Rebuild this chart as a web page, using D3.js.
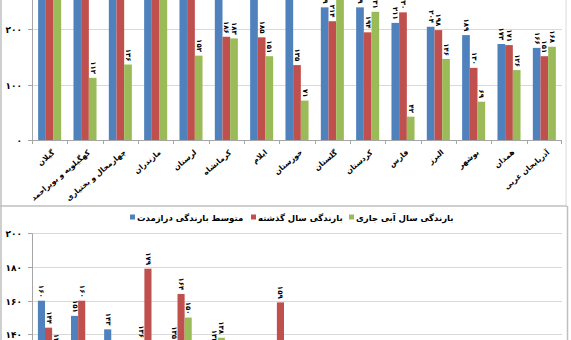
<!DOCTYPE html>
<html><head><meta charset="utf-8">
<script src="https://cdn.jsdelivr.net/npm/d3@7/dist/d3.min.js"></script>
<style>
html,body{margin:0;padding:0;background:#fff;}
svg{display:block;font-family:"DejaVu Sans",sans-serif;font-weight:bold;}
</style></head>
<body><svg id="c" width="571" height="340"></svg>
<script>
// ---- data: upper chart ----
const categoriesTop = ["گیلان","کهگیلویه و بویراحمد","چهارمحال و بختیاری","مازندران","لرستان","کرمانشاه","ایلام","خوزستان","گلستان","کردستان","فارس","البرز","بوشهر","همدان","آذربایجان غربی"];
const longTermTop = [780, 520, 390, 470, 330, 300, 320, 260, 239, 239, 211, 204, 189, 173, 166];
const lastYearTop = [760, 480, 360, 450, 300, 186, 185, 135, 214, 194, 230, 198, 130, 171, 151];
const currentTop  = [700, 112, 136, 420, 152, 183, 151, 71, 290, 231, 42, 146, 69, 126, 168];
const yTicksTop = [0, 100, 200, 300, 400, 500, 600, 700, 800];

// ---- data: lower chart ----
const categoriesBottom = ["اردبیل","زنجان","قزوین","تهران","آذربایجان شرقی","مرکزی","خراسان شمالی","هرمزگان","خراسان رضوی","قم","اصفهان","کرمان","سمنان","خراسان جنوبی","سیستان و بلوچستان","یزد"];
const longTermBottom = [160, 151, 143, 136, 135, 126, 124, 122, 112, 108, 102, 96, 88, 72, 58, 40];
const lastYearBottom = [144, 160, 125, 179, 164, 133, 118, 159, 104, 112, 98, 110, 86, 66, 47, 46];
const currentBottom  = [131, 120, 110, 122, 150, 138, 112, 96, 95, 90, 84, 72, 70, 52, 30, 35];
const yTicksBottom = [0, 20, 40, 60, 80, 100, 120, 140, 160, 180, 200];

const seriesNames = ["متوسط بارندگی درازمدت","بارندگی سال گذشته","بارندگی سال آبی جاری"];
const colors = ["#4F81BD","#C0504D","#9BBB59"];

const fa = n => String(n).replace(/\d/g, d => "۰۱۲۳۴۵۶۷۸۹"[d]);
const svg = d3.select("#c");
const grid = "#d9d9d9", axisC = "#a6a6a6";

// put the local right edge of a text at `right` and centre it vertically on 0 (optional)
function align(t, right, center){
  const bb = t.node().getBBox();
  t.attr("x", right - (bb.x + bb.width));
  if (center) t.attr("y", -(bb.y + bb.height/2));
}

// frames
svg.append("line").attr("x1",1).attr("x2",1).attr("y1",0).attr("y2",340).attr("stroke","#bfbfbf").attr("stroke-width",1.5);
svg.append("line").attr("x1",0).attr("x2",567).attr("y1",206).attr("y2",206).attr("stroke","#bfbfbf").attr("stroke-width",1.5);
svg.append("line").attr("x1",566).attr("x2",566).attr("y1",0).attr("y2",206).attr("stroke","#d9d9d9").attr("stroke-width",1);
svg.append("line").attr("x1",567.5).attr("x2",567.5).attr("y1",206).attr("y2",340).attr("stroke","#bfbfbf").attr("stroke-width",1.5);

function drawChart(g, opt){
  const {cats, series, y, yTicks, yTopVisible, showCatLabels} = opt;
  const x0 = d3.scaleBand().domain(cats).range([32,562]).padding(0);
  const x1 = d3.scaleBand().domain([0,1,2]).range([0,x0.bandwidth()]).paddingInner(0).paddingOuter(opt.pOuter);
  const baseY = y(0);
  yTicks.forEach(t=>{
    const yy = Math.round(y(t))+0.5;
    if (t>0) g.append("line").attr("x1",32).attr("x2",562).attr("y1",yy).attr("y2",yy).attr("stroke",grid);
    g.append("line").attr("x1",28).attr("x2",32).attr("y1",yy).attr("y2",yy).attr("stroke",axisC);
    g.append("text").attr("x",22).attr("y",yy).attr("dy","0.35em").attr("text-anchor","end")
      .attr("font-size",9).attr("fill","#000").text(fa(t));
  });
  series.forEach((vals,si)=>{
    cats.forEach((c,i)=>{
      const v = vals[i];
      const bx = x0(c)+x1(si);
      g.append("rect").attr("x",bx).attr("y",y(v)).attr("width",x1.bandwidth())
        .attr("height",Math.max(0,baseY-y(v))).attr("fill",colors[si]);
      const t = g.append("text").attr("transform",`translate(${bx+x1.bandwidth()/2},${y(v)}) rotate(90)`)
        .attr("font-size",7).attr("fill","#000").text(fa(v));
      align(t, -3, true);
    });
  });
  g.append("line").attr("x1",32.5).attr("x2",32.5).attr("y1",yTopVisible).attr("y2",baseY).attr("stroke",axisC);
  if (showCatLabels){
    g.append("line").attr("x1",32).attr("x2",562).attr("y1",baseY+0.5).attr("y2",baseY+0.5).attr("stroke",axisC);
    cats.forEach(c=>{
      const bx = Math.round(x0(c))+0.5;
      g.append("line").attr("x1",bx).attr("x2",bx).attr("y1",baseY).attr("y2",baseY+4).attr("stroke",axisC);
    });
    g.append("line").attr("x1",561.5).attr("x2",561.5).attr("y1",baseY).attr("y2",baseY+4).attr("stroke",axisC);
    cats.forEach(c=>{
      const cx = x0(c)+x0.bandwidth()/2;
      const t = g.append("text").attr("transform",`translate(${cx+6},${baseY+13}) rotate(-40)`)
        .attr("font-size",7.5).attr("fill","#000").text(c);
      align(t, 0, false);
    });
  }
}

// upper chart
const yTop = d3.scaleLinear().domain([0,800]).range([140, 140-800*111/200]);
drawChart(svg.append("g"), {cats:categoriesTop, series:[longTermTop,lastYearTop,currentTop], y:yTop, yTicks:yTicksTop,
  yTopVisible:0, showCatLabels:true, pOuter:0.8});

// lower chart, clipped to its frame
svg.append("defs").append("clipPath").attr("id","clipB").append("rect").attr("x",2).attr("y",207).attr("width",565).attr("height",140);
const yBot = d3.scaleLinear().domain([0,200]).range([570.3, 233.3]);
drawChart(svg.append("g").attr("clip-path","url(#clipB)"), {cats:categoriesBottom, series:[longTermBottom,lastYearBottom,currentBottom],
  y:yBot, yTicks:yTicksBottom, yTopVisible:yBot(200), showCatLabels:false, pOuter:0.83});

// legend
const legX = [130, 251, 349];
seriesNames.forEach((n,i)=>{
  svg.append("rect").attr("x",legX[i]).attr("y",214.5).attr("width",5).attr("height",5).attr("fill",colors[i]);
  svg.append("text").attr("x",legX[i]+7).attr("y",220.5).attr("font-size",8.5).attr("fill","#000").text(n);
});
</script>
</body></html>
